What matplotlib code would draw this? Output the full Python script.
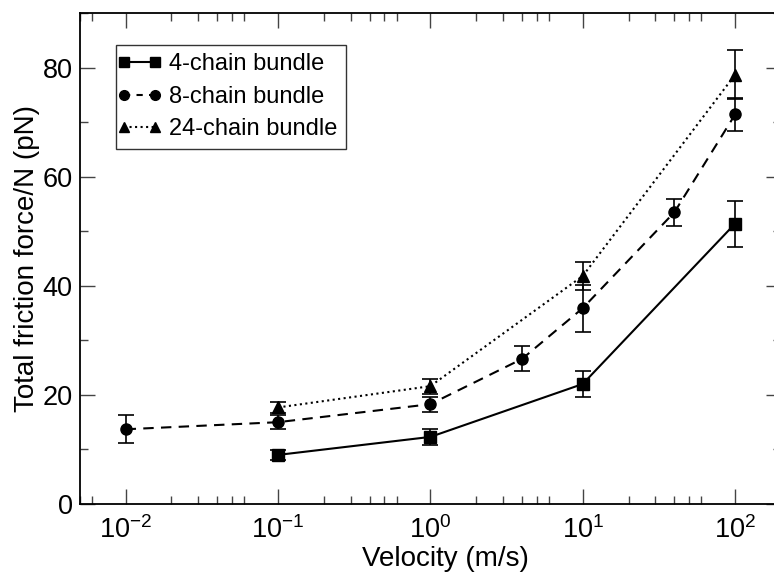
import numpy as np
import matplotlib
matplotlib.use("Agg")
import matplotlib.pyplot as plt
from matplotlib.lines import Line2D
from matplotlib.legend_handler import HandlerLine2D
from matplotlib.ticker import LogLocator, MultipleLocator, NullFormatter

plt.rcParams['font.family'] = ['Liberation Sans', 'DejaVu Sans']
plt.rcParams['mathtext.fontset'] = 'custom'
plt.rcParams['mathtext.rm'] = 'Liberation Sans'

# 4-chain bundle
v4 = [0.1, 1, 10, 100]
f4 = [9.0, 12.3, 22.0, 51.4]
e4 = [0.9, 1.5, 2.4, 4.2]

# 8-chain bundle
v8 = [0.01, 0.1, 1, 4, 10, 40, 100]
f8 = [13.7, 15.0, 18.3, 26.6, 35.9, 53.5, 71.4]
e8 = [2.6, 1.3, 1.4, 2.3, 4.3, 2.5, 3.0]

# 24-chain bundle
v24 = [0.1, 1, 10, 100]
f24 = [17.7, 21.6, 41.8, 78.7]
e24 = [1.0, 1.4, 2.6, 4.5]

labels = ['4-chain bundle', '8-chain bundle', '24-chain bundle']

fig = plt.figure(figsize=(7.74, 5.79), dpi=100)
ax = fig.add_axes([0.103, 0.1295, 0.906, 0.848])

kw = dict(color='black', ecolor='black', elinewidth=1.2, capsize=6, capthick=1.2, lw=1.5, ms=8)
ax.errorbar(v4, f4, yerr=e4, fmt='s-', **kw)
ax.errorbar(v8, f8, yerr=e8, fmt='o--', dashes=(5, 3.5), **kw)
ax.errorbar(v24, f24, yerr=e24, fmt='^:', **kw)

handles = [Line2D([], [], color='black', marker='s', ls='-', lw=1.5, ms=7),
           Line2D([], [], color='black', marker='o', ls='--', dashes=(3, 3), lw=1.5, ms=7),
           Line2D([], [], color='black', marker='^', ls=':', lw=1.5, ms=7)]

ax.set_xscale('log')
ax.set_xlim(0.005, 200)
ax.set_ylim(0, 90)

ax.xaxis.set_major_locator(LogLocator(base=10, numticks=10))
ax.xaxis.set_minor_locator(LogLocator(base=10, subs=(2, 3, 4, 5, 6), numticks=10))
ax.xaxis.set_minor_formatter(NullFormatter())
ax.yaxis.set_major_locator(MultipleLocator(20))
ax.yaxis.set_minor_locator(MultipleLocator(10))

ax.tick_params(which='both', direction='in', top=True, right=True, labelsize=19.5, width=1.0, color='#444444')
ax.tick_params(which='major', length=10.5)
ax.tick_params(which='minor', length=5.5)
ax.tick_params(axis='x', which='major', pad=9)
ax.tick_params(axis='y', which='major', pad=5)
for s in ax.spines.values():
    s.set_linewidth(1.3)

ax.set_xlabel('Velocity (m/s)', fontsize=20)
ax.set_ylabel('Total friction force/N (pN)', fontsize=20)
ax.xaxis.set_label_coords(0.521, -0.085)
ax.yaxis.set_label_coords(-0.057, 0.5)

leg = ax.legend(handles, labels, loc='upper left', bbox_to_anchor=(0.052, 0.935), borderaxespad=0,
                numpoints=2, fontsize=17, frameon=True, fancybox=False,
                edgecolor='black', handlelength=1.3, handletextpad=0.6,
                labelspacing=0.45, borderpad=0.35,
                handler_map={Line2D: HandlerLine2D(marker_pad=0)})
leg.get_frame().set_linewidth(1.0)

fig.savefig('out.png', dpi=100)
